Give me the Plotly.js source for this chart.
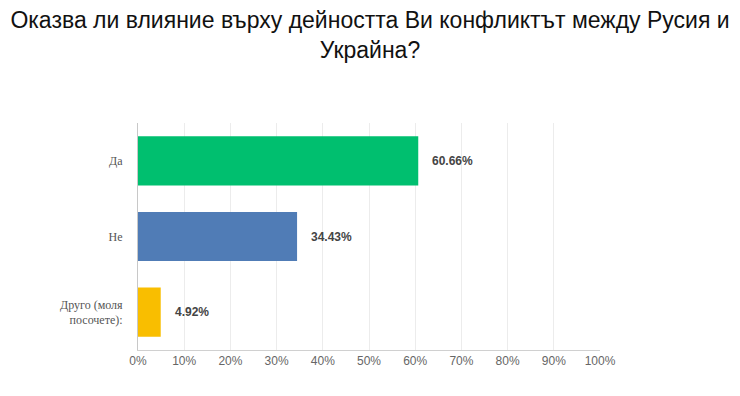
<!DOCTYPE html>
<html><head><meta charset="utf-8">
<script src="https://cdn.plot.ly/plotly-3.0.1.min.js"></script>
<style>html,body{margin:0;padding:0;background:#fff}#chart{width:740px;height:396px}</style>
</head><body><div id="chart"></div>
<script>
const categories = ["Да", "Не", "Друго (моля<br>посочете):"];
const values = [60.66, 34.43, 4.92];
const colors = ["#00BF6F", "#507CB6", "#F9BE00"];
const tickVals = [0,10,20,30,40,50,60,70,80,90,100];
const tickText = ["0%","10%","20%","30%","40%","50%","60%","70%","80%","90%","100%"];

const trace = {
  type: "bar", orientation: "h",
  x: values, y: categories,
  marker: {color: colors},
  hoverinfo: "none"
};
const annotations = values.map((v, i) => ({
  x: v, y: categories[i], xref: "x", yref: "y",
  text: v.toFixed(2) + "%", showarrow: false,
  xanchor: "left", xshift: 12,
  font: {family: "Liberation Sans, Arial, sans-serif", size: 12, color: "#444", weight: "bold"}
}));
const layout = {
  width: 740, height: 396,
  margin: {l: 138, r: 140, t: 123, b: 46},
  paper_bgcolor: "#fff", plot_bgcolor: "#fff",
  showlegend: false, bargap: 0.35,
  title: {
    text: "Оказва ли влияние върху дейността Ви конфликтът между Русия и<br>Украйна?",
    x: 0.5, xanchor: "center", y: 0.93, yanchor: "top",
    font: {family: "Liberation Sans, Arial, sans-serif", size: 23, color: "#111"}
  },
  xaxis: {
    range: [0, 100], tickvals: tickVals, ticktext: tickText,
    showgrid: true, gridcolor: "#ececec", gridwidth: 1,
    zeroline: false, showline: true, linecolor: "#d0d0d0",
    tickfont: {family: "Liberation Sans, Arial, sans-serif", size: 12, color: "#666"},
    ticks: "", fixedrange: true
  },
  yaxis: {
    autorange: "reversed", showline: true, linecolor: "#c8c8c8",
    ticks: "", ticklabelstandoff: 12,
    tickfont: {family: "Liberation Serif, serif", size: 12, color: "#555"},
    fixedrange: true
  },
  annotations: annotations
};
Plotly.newPlot("chart", [trace], layout, {displayModeBar: false, staticPlot: true});
</script></body></html>
